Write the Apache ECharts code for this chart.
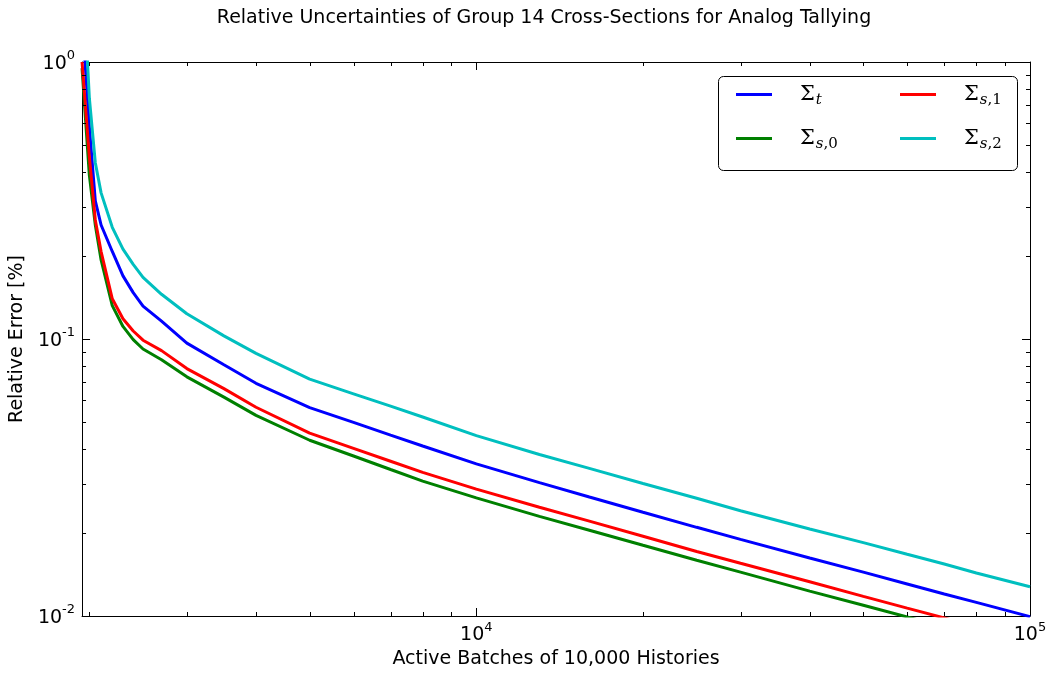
<!DOCTYPE html>
<html><head><meta charset="utf-8">
<script src="https://cdn.jsdelivr.net/npm/echarts@6/dist/echarts.min.js"></script>
<style>html,body{margin:0;padding:0;background:#fff}#c{width:1051px;height:674px}</style>
</head><body><div id="c"></div>
<script>
const batches = [1940, 2000, 2050, 2100, 2200, 2300, 2400, 2500, 2700, 3000, 3500, 4000, 5000, 6000, 7000, 8000, 10000, 13000, 16000, 20000, 25000, 30000, 40000, 50000, 60000, 70000, 80000, 100000];
const sigmaT  = [1.45, 0.582, 0.315, 0.258, 0.207, 0.169, 0.147, 0.1315, 0.116, 0.0966, 0.0807, 0.0692, 0.0565, 0.0500, 0.0450, 0.0411, 0.0354, 0.0303, 0.0269, 0.0237, 0.0209, 0.0189, 0.0162, 0.0144, 0.01305, 0.0120, 0.0112, 0.00995];
const sigmaS0 = [0.95, 0.39, 0.258, 0.193, 0.132, 0.111, 0.0995, 0.0920, 0.0842, 0.0730, 0.0617, 0.0530, 0.0431, 0.0378, 0.0338, 0.0307, 0.0267, 0.0229, 0.0204, 0.0180, 0.0159, 0.0144, 0.0123, 0.01094, 0.00992, 0.00914, 0.00851, 0.00756];
const sigmaS1 = [1.0, 0.454, 0.269, 0.207, 0.1397, 0.1184, 0.1069, 0.0990, 0.0908, 0.0782, 0.0662, 0.0567, 0.0457, 0.0403, 0.0362, 0.0330, 0.0287, 0.0247, 0.0220, 0.0194, 0.0171, 0.0155, 0.0133, 0.01177, 0.01068, 0.00984, 0.00916, 0.00812];
const sigmaS2 = [2.4, 0.740, 0.433, 0.337, 0.253, 0.211, 0.186, 0.167, 0.145, 0.1233, 0.1026, 0.0887, 0.0716, 0.0634, 0.0572, 0.0523, 0.0448, 0.0383, 0.0341, 0.0301, 0.0266, 0.0240, 0.0206, 0.0184, 0.0167, 0.0154, 0.0143, 0.01276];
const xMin = 1940, xMax = 100000, yMin = 0.01, yMax = 1;
const minorX = [2000, 3000, 4000, 5000, 6000, 7000, 8000, 9000, 20000, 30000, 40000, 50000, 60000, 70000, 80000, 90000];
const minorY = [0.02, 0.03, 0.04, 0.05, 0.06, 0.07, 0.08, 0.09, 0.2, 0.3, 0.4, 0.5, 0.6, 0.7, 0.8, 0.9];
const names = ['Σ_t', 'Σ_s,0', 'Σ_s,1', 'Σ_s,2'];
const colors = ['#0000ff', '#008000', '#ff0000', '#00bfbf'];
const seriesData = [sigmaT, sigmaS0, sigmaS1, sigmaS2];

const FONT = 'DejaVu Sans';
function powLabel(v) {
  const e = Math.log10(v);
  const r = Math.round(e);
  if (Math.abs(e - r) > 1e-6) return '';
  return '{b|10}{e|' + r + '}';
}
const powRich = {
  b: {fontFamily: FONT, fontSize: 19, color: '#000', padding: [4, 0, 0, 0]},
  e: {fontFamily: FONT, fontSize: 13, color: '#000', padding: [0, 0, 12, 0]}
};
function legendLabel(name) {
  const sub = name.split('_')[1];
  const letter = sub.charAt(0);
  const rest = sub.slice(1);
  return '{S|Σ}{i|' + letter + '}' + (rest ? '{r|' + rest + '}' : '');
}
const legendRich = {
  S: {fontFamily: 'DejaVu Serif', fontSize: 21, color: '#000', padding: [0, 0, 0, 23]},
  i: {fontFamily: 'DejaVu Serif', fontStyle: 'italic', fontSize: 15, color: '#000', padding: [12, 0, 0, 1]},
  r: {fontFamily: 'DejaVu Serif', fontSize: 15, color: '#000', padding: [12, 0, 0, 0]}
};

const chart = echarts.init(document.getElementById('c'), null, {renderer: 'canvas'});
const axisLine = {show: true, lineStyle: {color: '#000', width: 1}};
const tickStyle = {inside: true, length: 8, lineStyle: {color: '#000', width: 1}};

const series = seriesData.map((d, i) => ({
  name: names[i], type: 'line', symbol: 'none', clip: true,
  data: batches.map((b, j) => [b, d[j]]),
  lineStyle: {color: colors[i], width: 3}, itemStyle: {color: colors[i]},
  z: 2 + i
}));

const minorData = minorX.map(v => [v, 0.1, 0]).concat(minorY.map(v => [10000, v, 1]));
series.push({
  type: 'custom', silent: true, z: 10, clip: false,
  dimensions: ['x', 'y', 'k'], encode: {x: 0, y: 1},
  data: minorData,
  renderItem: function (params, api) {
    const cs = params.coordSys;
    const st = {stroke: '#000', lineWidth: 1};
    if (api.value(2) === 0) {
      const x = Math.round(api.coord([api.value(0), 0.1])[0]) + 0.5;
      return {type: 'group', children: [
        {type: 'line', shape: {x1: x, y1: cs.y + cs.height, x2: x, y2: cs.y + cs.height - 4}, style: st},
        {type: 'line', shape: {x1: x, y1: cs.y, x2: x, y2: cs.y + 4}, style: st}
      ]};
    } else {
      const y = Math.round(api.coord([10000, api.value(1)])[1]) + 0.5;
      return {type: 'group', children: [
        {type: 'line', shape: {x1: cs.x, y1: y, x2: cs.x + 4, y2: y}, style: st},
        {type: 'line', shape: {x1: cs.x + cs.width, y1: y, x2: cs.x + cs.width - 4, y2: y}, style: st}
      ]};
    }
  }
});

chart.setOption({
  animation: false,
  backgroundColor: '#fff',
  title: {
    text: 'Relative Uncertainties of Group 14 Cross-Sections for Analog Tallying',
    left: 539, top: 4, textAlign: 'center',
    textStyle: {fontFamily: FONT, fontSize: 19, fontWeight: 'normal', color: '#000'}
  },
  grid: {left: 78, right: 21, top: 62, bottom: 58},
  xAxis: [{
    type: 'log', logBase: 10, min: xMin, max: xMax,
    name: 'Active Batches of 10,000 Histories', nameLocation: 'middle', nameGap: 31,
    nameTextStyle: {fontFamily: FONT, fontSize: 19, color: '#000'},
    axisLine: axisLine, axisTick: tickStyle, splitLine: {show: false},
    axisLabel: {formatter: powLabel, rich: powRich, margin: 5, showMinLabel: true, showMaxLabel: true}
  }, {
    type: 'log', logBase: 10, min: xMin, max: xMax, position: 'top',
    axisLine: axisLine, axisTick: tickStyle, splitLine: {show: false}, axisLabel: {show: false}
  }],
  yAxis: [{
    type: 'log', logBase: 10, min: yMin, max: yMax,
    name: 'Relative Error [%]', nameLocation: 'middle', nameGap: 45,
    nameTextStyle: {fontFamily: FONT, fontSize: 19, color: '#000'},
    axisLine: axisLine, axisTick: tickStyle, splitLine: {show: false},
    axisLabel: {formatter: powLabel, rich: powRich, margin: 7, showMinLabel: true, showMaxLabel: true}
  }, {
    type: 'log', logBase: 10, min: yMin, max: yMax, position: 'right',
    axisLine: axisLine, axisTick: tickStyle, splitLine: {show: false}, axisLabel: {show: false}
  }],
  graphic: [{
    type: 'rect', z: 100, silent: true,
    shape: {x: 718.5, y: 76.5, width: 299, height: 94, r: 5},
    style: {fill: '#fff', stroke: '#000', lineWidth: 1}
  }],
  legend: [{
    data: [names[0], names[1]], left: 736, top: 84, orient: 'vertical', padding: 0,
    itemWidth: 36, itemHeight: 3, icon: 'rect', itemGap: 20, z: 200,
    formatter: legendLabel, textStyle: {rich: legendRich}
  }, {
    data: [names[2], names[3]], left: 900, top: 84, orient: 'vertical', padding: 0,
    itemWidth: 36, itemHeight: 3, icon: 'rect', itemGap: 20, z: 200,
    formatter: legendLabel, textStyle: {rich: legendRich}
  }],
  series: series
});
</script></body></html>
